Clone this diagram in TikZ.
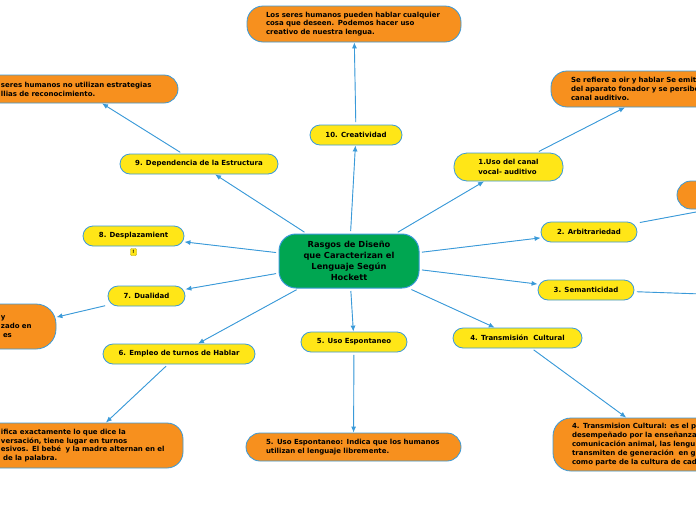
\documentclass[tikz,border=0pt]{standalone}
\usepackage{fontspec}
\setmainfont{DejaVu Sans}
\usepackage{xcolor}
\usetikzlibrary{shapes.geometric, arrows.meta}

\definecolor{mapgreen}{HTML}{00A651}
\definecolor{mapyellow}{HTML}{FFE617}
\definecolor{maporange}{HTML}{F7901E}
\definecolor{mapblue}{HTML}{3A9AD9}
\definecolor{noteline}{HTML}{B8A800}

\begin{document}
\begin{tikzpicture}[x=1pt, y=-1pt,
    core/.style={rectangle, draw=mapblue, fill=mapgreen, line width=1pt, rounded corners=17pt, align=center, minimum width=140pt, minimum height=54pt, font=\fontsize{8.3pt}{11pt}\selectfont\bfseries},
    feature/.style={rectangle, draw=mapblue, fill=mapyellow, line width=0.8pt, rounded corners=10pt, minimum height=20pt, inner sep=2pt, font=\fontsize{7pt}{9.5pt}\selectfont\bfseries},
    leaf/.style={rectangle, draw=mapblue, fill=maporange, line width=0.8pt, rounded corners=16pt, align=left, inner ysep=0pt, font=\fontsize{7pt}{8.8pt}\selectfont\bfseries},
    note/.style={rectangle, draw=noteline, fill=mapyellow, rounded corners=1pt, inner sep=0.8pt, minimum width=6pt, minimum height=7pt, font=\fontsize{4.5pt}{5pt}\selectfont\bfseries},
    link/.style={-{Latex[length=6pt,width=5pt]}, line width=0.9pt, draw=mapblue, fill=mapblue, shorten <=2.5pt}
]
\useasboundingbox (0,0) rectangle (696,520);
\clip (0,0) rectangle (696,520);
\fill[white] (0,0) rectangle (696,520);

% Center
\node[core] (core) at (349,261) {Rasgos de Diseño\\que Caracterizan el\\Lenguaje Según\\Hockett};

% Features
\node[feature, minimum width=92pt] (n10) at (356,135) {10. Creatividad};
\node[feature, minimum width=158pt] (n9) at (199,164) {9. Dependencia de la Estructura};
\node[feature, minimum width=101pt] (n8) at (133.5,236) {8. Desplazamient};
\node[note] (n8note) at (133.5,252) {!};
\node[feature, minimum width=77pt] (n7) at (146.5,296) {7. Dualidad};
\node[feature, minimum width=152pt] (n6) at (179,354) {6. Empleo de turnos de Hablar};
\node[feature, minimum width=106pt] (n5) at (354,342) {5. Uso Espontaneo};
\node[feature, minimum width=129pt] (n4) at (517.5,338) {4. Transmisión~ Cultural};
\node[feature, minimum width=96pt] (n3) at (586,290) {3. Semanticidad};
\node[feature, minimum width=96pt] (n2) at (589,232) {2. Arbitrariedad};
\node[feature, minimum width=109pt, minimum height=28pt, rounded corners=13pt, align=left] (n1) at (508.5,167) {1.Uso del canal\\vocal- auditivo};

% Leaves
\node[leaf, minimum height=36pt, inner xsep=19pt, text width=176pt] (leaf10) at (354,24) {Los seres humanos pueden hablar cualquier\\cosa que deseen. Podemos hacer uso\\creativo de nuestra lengua.};
\node[leaf, minimum height=28pt, rounded corners=14pt, inner xsep=21pt, text width=156pt] (leaf9) at (79,89) {seres humanos no utilizan estrategias\\llias de reconocimiento.};
\node[leaf, minimum height=45pt, rounded corners=20pt, inner xsep=24pt, text width=31pt] (leaf7) at (16.5,326.5) {y\\\mbox{zado en}\\\hspace*{2pt}es};
\node[leaf, minimum height=45pt, rounded corners=16pt, inner xsep=21pt, text width=161pt] (leaf6) at (81.5,445.5) {ifica exactamente lo que dice la\\versación, tiene lugar en turnos\\\mbox{esivos. El bebé~ y la madre alternan en el}\\\hspace*{2pt}de la palabra.};
\node[leaf, minimum height=28pt, rounded corners=14pt, inner xsep=20pt, text width=175pt] (leaf5) at (353.5,447) {5. Uso Espontaneo: Indica que los humanos\\utilizan el lenguaje libremente.};
\node[leaf, minimum height=53pt, rounded corners=18pt, inner xsep=19pt, text width=182pt] (leaf4) at (663,444.5) {4. Transmision Cultural: es el pa\\desempeñado por la enseñanza\\comunicación animal, las lengu\\transmiten de generación~ en g\\como parte de la cultura de cad};
\coordinate (leaf3) at (760,296);
\node[leaf, minimum height=28pt, minimum width=220pt, rounded corners=14pt] (leaf2) at (787,195) {};
\node[leaf, minimum height=36pt, inner xsep=20pt, text width=180pt] (leaf1) at (661,89) {Se refiere a oir y hablar Se emit\\del aparato fonador y se persibe\\canal auditivo.};

% Center to features
\draw[link] (core) -- (n10);
\draw[link] (core) -- (n9);
\draw[link] (core) -- (n8);
\draw[link] (core) -- (n7);
\draw[link] (core) -- (n6);
\draw[link] (core) -- (n5);
\draw[link] (core) -- (n4);
\draw[link] (core) -- (n3);
\draw[link] (core) -- (n2);
\draw[link] (core) -- (n1);

% Features to leaves
\draw[link] (n10) -- (leaf10);
\draw[link] (n9) -- (leaf9);
\draw[link] (n7) -- (leaf7);
\draw[link] (n6) -- (leaf6);
\draw[link] (n5) -- (leaf5);
\draw[link] (n4) -- (leaf4);
\draw[link] (n3) -- (leaf3);
\draw[link] (n2) -- (leaf2);
\draw[link] (n1) -- (leaf1);

\end{tikzpicture}
\end{document}
